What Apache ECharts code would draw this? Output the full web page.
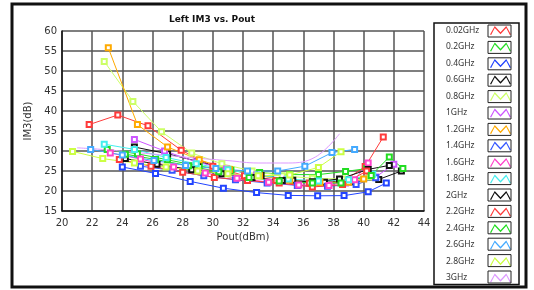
<!DOCTYPE html>
<html>
<head>
<meta charset="utf-8">
<title>Left IM3 vs. Pout</title>
<script src="https://cdn.jsdelivr.net/npm/echarts@6/dist/echarts.min.js"></script>
<style>
  html, body { margin: 0; padding: 0; background: #fff; }
  #chart { width: 534px; height: 290px; }
</style>
</head>
<body>
<div id="chart"></div>
<script>
// 频点名称
const freqNames = ['0.02GHz', '0.2GHz', '0.4GHz', '0.6GHz', '0.8GHz', '1GHz', '1.2GHz', '1.4GHz',
    '1.6GHz', '1.8GHz', '2GHz', '2.2GHz', '2.4GHz', '2.6GHz', '2.8GHz', '3GHz'];

// 每个频点: Pout(dBm) 与 IM3(dB)
const pout002 = [21.8, 23.7, 25.7, 27.9, 30.0, 32.1, 34.2, 36.4, 38.6, 40.1, 41.3];
const im3002  = [36.6, 39.0, 36.3, 30.2, 26.2, 23.8, 22.6, 22.0, 22.3, 26.1, 33.5];
const pout02  = [23.0, 25.0, 27.0, 29.1, 31.2, 33.1, 35.1, 37.0, 38.8, 40.2];
const im302   = [30.4, 29.3, 27.8, 26.2, 25.2, 24.6, 24.1, 24.1, 24.9, 25.6];
const pout04  = [24.0, 26.2, 28.5, 30.7, 32.9, 35.0, 36.95, 38.7, 40.3, 41.5];
const im304   = [26.0, 24.4, 22.4, 20.7, 19.6, 18.9, 18.8, 18.85, 19.8, 22.0];
const pout06  = [24.8, 27.0, 29.0, 31.1, 33.2, 35.3, 37.4, 39.3, 41.0, 42.5];
const im306   = [31.0, 29.3, 27.4, 25.3, 23.9, 22.7, 22.2, 22.3, 22.9, 25.0];
const pout08  = [22.8, 24.7, 26.6, 28.6, 30.6, 32.6, 34.6, 36.6, 38.6, 40.4];
const im308   = [52.4, 42.4, 34.8, 29.5, 26.8, 25.0, 23.8, 23.2, 23.0, 23.5];
const pout1   = [24.8, 26.8, 28.9, 30.9, 32.9, 34.9, 36.9, 38.8, 40.8, 42.0];
const im31    = [32.9, 30.0, 27.3, 25.5, 24.0, 22.8, 22.1, 22.0, 23.5, 26.7];
const pout12  = [23.07, 25.0, 27.0, 29.1, 31.1, 33.1, 35.1, 37.1, 39.0, 40.0];
const im312   = [55.8, 36.6, 31.0, 27.8, 25.4, 23.8, 22.7, 22.1, 22.2, 23.0];
const pout14  = [25.2, 27.3, 29.4, 31.5, 33.6, 35.6, 37.6, 39.5, 40.8];
const im314   = [26.2, 25.2, 23.8, 22.8, 22.0, 21.4, 21.2, 21.6, 23.3];
const pout16  = [23.2, 25.2, 27.4, 29.5, 31.6, 33.7, 35.7, 37.7, 39.4, 40.3];
const im316   = [29.5, 28.0, 26.0, 24.5, 23.2, 22.2, 21.5, 21.4, 22.8, 27.0];
const pout18  = [22.8, 24.8, 26.9, 28.9, 31.0, 33.0, 35.0, 37.0, 39.0, 40.6];
const im318   = [31.7, 30.4, 28.4, 26.8, 25.3, 24.0, 23.0, 22.5, 22.8, 24.2];
const pout2   = [24.2, 26.3, 28.6, 30.6, 32.6, 34.6, 36.6, 38.4, 40.3, 41.7];
const im32    = [28.1, 26.7, 25.3, 24.3, 23.4, 22.6, 22.3, 23.0, 25.4, 26.4];
const pout22  = [23.8, 25.9, 28.0, 30.1, 32.3, 34.4, 36.6, 38.6, 40.2];
const im322   = [27.9, 26.2, 24.7, 23.4, 22.6, 22.0, 21.0, 21.6, 25.0];
const pout24  = [24.2, 26.2, 28.4, 30.4, 32.4, 34.4, 36.6, 38.5, 40.5, 41.7, 42.6];
const im324   = [29.2, 27.9, 26.3, 24.8, 23.4, 22.5, 22.0, 22.0, 23.9, 28.5, 25.6];
const pout26  = [21.9, 24.0, 26.1, 28.2, 30.2, 32.3, 34.3, 36.1, 37.9, 39.4];
const im326   = [30.4, 29.0, 27.6, 26.4, 25.6, 25.0, 25.0, 26.2, 29.6, 30.4];
const pout28  = [20.7, 22.7, 24.8, 26.9, 29.0, 31.0, 33.0, 35.1, 37.0, 38.5];
const im328   = [29.9, 28.1, 27.0, 26.0, 25.0, 24.3, 23.8, 24.0, 25.9, 29.8];
const pout3   = [21.0, 23.0, 25.0, 27.0, 29.0, 31.0, 33.0, 35.0, 36.8, 38.4];
const im33    = [30.8, 30.3, 29.6, 28.9, 28.2, 27.6, 27.0, 27.0, 28.5, 34.3];

const poutList = [pout002, pout02, pout04, pout06, pout08, pout1, pout12, pout14,
    pout16, pout18, pout2, pout22, pout24, pout26, pout28, pout3];
const im3List = [im3002, im302, im304, im306, im308, im31, im312, im314,
    im316, im318, im32, im322, im324, im326, im328, im33];

// 坐标轴刻度
const xTicks = { min: 20, max: 44, step: 2 };
const yTicks = { min: 15, max: 60, step: 5 };

const colors = ['#ff3b3b', '#22dd22', '#2244ff', '#111111', '#ccff66', '#cc55ff', '#ffaa00', '#3355ff',
    '#ff44cc', '#44eeee', '#111111', '#ff3b3b', '#22dd22', '#44aaff', '#ccff44', '#dd99ff'];

const FONT = 'DejaVu Sans';

// 图例图标: 折线形状
const zigzagIcon = 'path://M0,11 L5,2 L11,8.5 L17,2 L22,11 L20.8,11.4 L17,4 L11,10.5 L5,4 L1.2,11.4 Z';

const series = freqNames.map((name, i) => ({
    name: name,
    type: 'line',
    data: poutList[i].map((x, k) => [x, im3List[i][k]]),
    symbol: i === 15 ? 'none' : 'emptyRect',
    symbolSize: 5,
    smooth: i === 15 ? 0.4 : false,
    lineStyle: { width: 1, color: colors[i] },
    itemStyle: { color: colors[i], borderWidth: 1 }
}));

// 图例外框
const legendFrames = freqNames.map((n, i) => ({
    type: 'rect',
    shape: { x: 488, y: 25 + i * 16.4, width: 23, height: 12 },
    style: { fill: 'none', stroke: '#222', lineWidth: 1 },
    z: 200
}));

const chart = echarts.init(document.getElementById('chart'), null, { renderer: 'canvas' });

chart.setOption({
    animation: false,
    backgroundColor: '#fff',
    title: {
        text: 'Left IM3 vs. Pout',
        left: 207,
        top: 10,
        textAlign: 'center',
        textStyle: { fontFamily: FONT, fontSize: 9, fontWeight: 'bold', color: '#111' }
    },
    grid: { left: 62, right: 110, top: 31, bottom: 79 },
    xAxis: {
        type: 'value',
        min: xTicks.min, max: xTicks.max, interval: xTicks.step,
        name: 'Pout(dBm)',
        nameLocation: 'middle',
        nameGap: 20,
        nameTextStyle: { fontFamily: FONT, fontSize: 10, color: '#333' },
        axisLine: { lineStyle: { color: '#111', width: 1.5 } },
        axisTick: { show: false },
        axisLabel: { fontFamily: FONT, fontSize: 10, color: '#333', margin: 7 },
        splitLine: { lineStyle: { color: '#555', width: 1.5 } }
    },
    yAxis: {
        type: 'value',
        min: yTicks.min, max: yTicks.max, interval: yTicks.step,
        name: 'IM3(dB)',
        nameLocation: 'middle',
        nameGap: 24,
        nameTextStyle: { fontFamily: FONT, fontSize: 10, color: '#333' },
        axisLine: { show: true, lineStyle: { color: '#111', width: 1.5 } },
        axisTick: { show: false },
        axisLabel: { fontFamily: FONT, fontSize: 10, color: '#333', margin: 5 },
        splitLine: { lineStyle: { color: '#555', width: 1.5 } }
    },
    legend: {
        data: freqNames.map(n => ({ name: n, icon: zigzagIcon })),
        orient: 'vertical',
        left: 434,
        top: 23,
        padding: [3, 8, 2, 12],
        itemGap: 7.5,
        itemWidth: 21,
        itemHeight: 12,
        align: 'right',
        borderColor: '#111',
        borderWidth: 1.5,
        itemStyle: { borderWidth: 0 },
        formatter: '{t|{name}}',
        textStyle: {
            fontFamily: 'Noto Sans', fontSize: 8.5, color: '#333',
            rich: { t: { width: 39, align: 'left', fontFamily: 'Noto Sans', fontSize: 8.5, color: '#333' } }
        }
    },
    graphic: [
        {
            type: 'rect',
            shape: { x: 12, y: 4, width: 514, height: 283 },
            style: { fill: 'none', stroke: '#111', lineWidth: 3 },
            z: 100
        }
    ].concat(legendFrames),
    series: series
});
</script>
</body>
</html>
